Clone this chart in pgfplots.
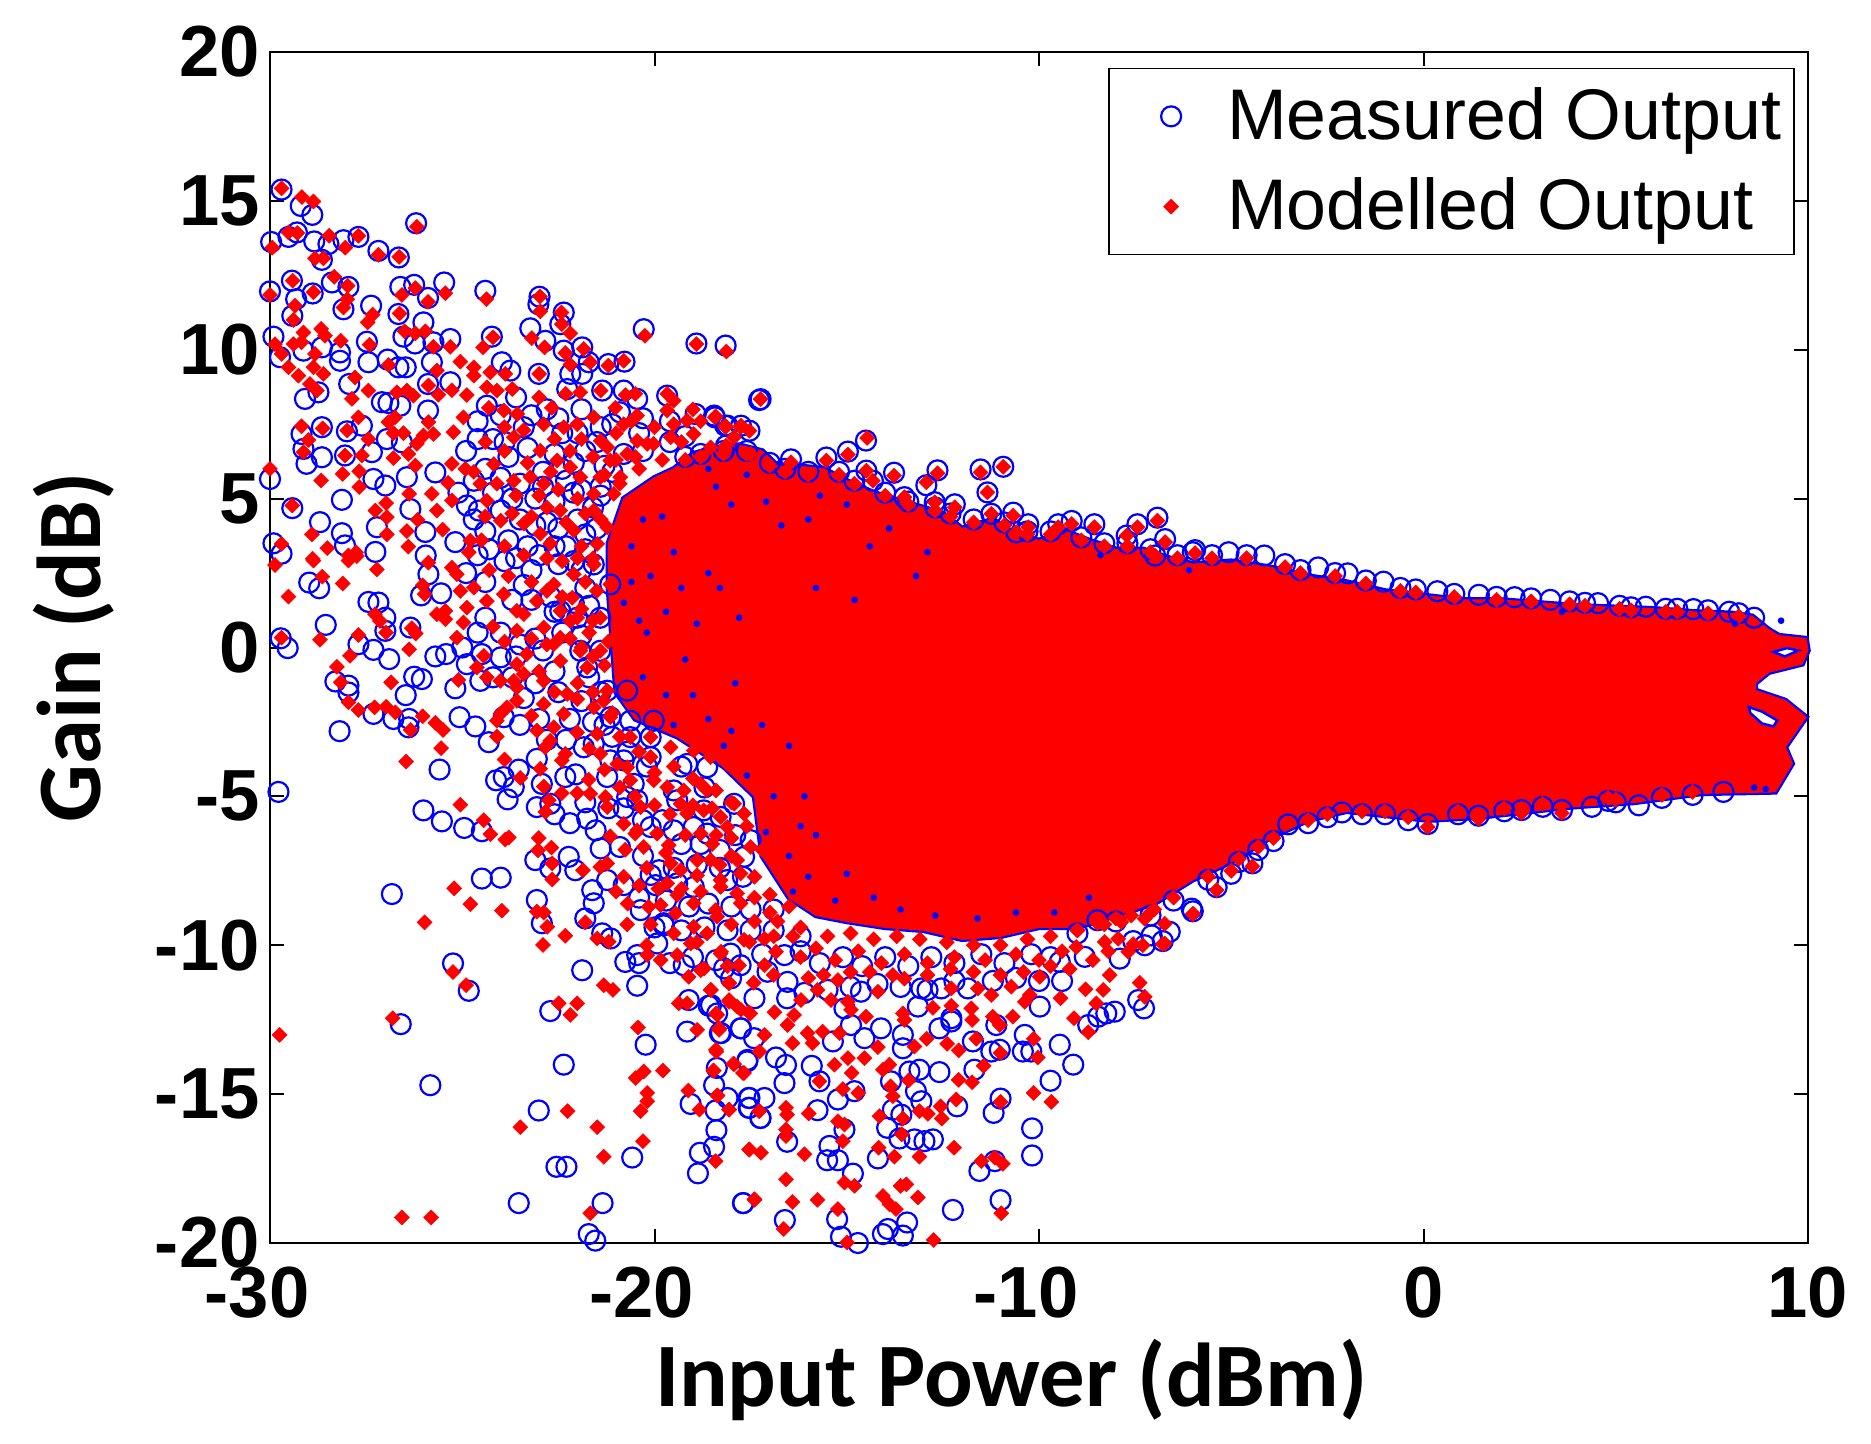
\documentclass[border=0pt]{standalone}
\usepackage{fontspec}
\setmainfont{Liberation Sans}
\newfontfamily\labelfont{Carlito}
\usepackage{pgfplots}
\pgfplotsset{compat=1.18}
\definecolor{mblue}{RGB}{0,0,255}
\definecolor{mred}{RGB}{255,0,0}
\pgfplotsset{
  meas/.style={only marks,mark=o,mark size=1.0mm,mark options={mblue,line width=0.22mm},mblue},
  modl/.style={only marks,mark=square*,mark size=0.53mm,mark options={mred,rotate=45,line width=0.05mm},mred},
}
\begin{document}
\begin{tikzpicture}
\useasboundingbox (-27mm,-20mm) rectangle (160.1mm,124.3mm);
\begin{axis}[
  scale only axis, width=153.8mm, height=119.1mm,
  xmin=-30, xmax=10, ymin=-20, ymax=20,
  xtick={-30,-20,-10,0,10}, ytick={-20,-15,-10,-5,0,5,10,15,20},
  xticklabels={-30\kern2.6mm,-20\kern2.6mm,-10\kern2.6mm,0,10},
  yticklabels={-20,-15,-10,-5,0,5,10,15,20},
  tick align=inside, major tick length=1.4mm,
  axis line style={line width=0.28mm}, tick style={line width=0.2mm,black},
  clip=false,
  tick label style={font=\fontsize{20.6}{22}\selectfont\bfseries},
  xticklabel style={yshift=-1.2mm},
  yticklabel style={xshift=0.2mm},
  xlabel={\labelfont\bfseries\fontsize{25.8}{28}\selectfont Input Power (dBm)},
  ylabel={\labelfont\bfseries\fontsize{25.8}{28}\selectfont Gain (dB)},
  every axis x label/.style={at={(axis description cs:0.482,0)},anchor=center,yshift=-13.7mm},
  every axis y label/.style={at={(axis description cs:0,0.5)},rotate=90,anchor=center,yshift=19.6mm},
  legend style={at={(0.9915,0.9866)},anchor=north east,draw=black,line width=0.15mm,
    font=\fontsize{20.4}{22}\selectfont,row sep=1.9mm,inner xsep=0.6mm,inner ysep=1.2mm},
  legend image code/.code={\draw[#1] plot coordinates {(0mm,0mm)}; \path[draw=none,fill=none] (-5.6mm,0mm) (4.9mm,0mm);},
  legend cell align=left,
]
% blue edge of the dense core
\addplot[forget plot,fill=mblue,draw=mblue,line width=0.55mm] coordinates {
(-21.2,3.5)(-20.8,5.0)(-20,5.7)(-19.5,6.0)(-19,6.5)(-18.5,6.7)(-17.8,6.8)(-17.2,6.6)(-16.8,6.1)(-16.3,6.1)(-15.6,6.0)(-15,5.6)(-14.3,5.2)(-13.8,5.0)(-13,4.7)(-12.5,4.5)(-12,4.0)(-11.2,4.3)(-10.6,3.8)(-10,3.6)(-9.3,3.9)(-8.7,3.6)(-8,3.3)(-7.3,3.3)(-6.6,3.0)(-6,2.8)(-5,2.9)(-4,2.7)(-3,2.4)(-2,2.2)(-1,1.9)(0,1.75)(1,1.6)(2,1.6)(3,1.5)(4,1.4)(5,1.35)(6,1.3)(7,1.2)(8,1.15)(8.55,1.05)(8.98,0.6)(9.24,0.4)(9.95,0.3)(10,-0.1)(9.85,-0.55)(8.98,-0.83)(8.63,-1.2)(8.63,-1.44)(9.41,-1.78)(9.95,-2.34)(9.41,-3.35)(9.59,-3.9)(9.28,-4.57)(9.15,-4.85)(8.37,-4.87)(7.24,-4.9)(5.5,-5.2)(3.77,-5.36)(1.43,-5.7)(0.12,-5.8)(-0.57,-5.7)(-2,-5.5)(-3,-5.8)(-4,-6.4)(-5,-7.2)(-6,-7.8)(-7,-8.6)(-8,-9)(-9,-9.4)(-10,-9.4)(-11,-9.7)(-12,-9.8)(-13,-9.5)(-14,-9.4)(-15,-9.2)(-15.8,-9.0)(-16.5,-8.4)(-17.2,-7.0)(-17.4,-5.0)(-18.2,-4.0)(-19.4,-3.0)(-20.5,-2.4)(-21.0,-1.5)(-21.2,2)
} -- cycle;
\addplot[meas] coordinates {
(-29.70,15.38)(-29.2,14.83)(-28.9,14.53)(-29.97,13.62)(-29.52,13.79)(-29.3,13.94)(-28.85,13.64)(-28.48,13.55)(-28.09,13.68)(-27.7,13.79)(-27.18,13.32)(-26.65,13.1)(-28.65,13.02)(-26.2,14.25)(-29.43,12.32)(-30,11.96)(-28.89,11.89)(-29.32,11.7)(-28.39,12.26)(-27.96,12.11)(-28.09,11.36)(-26.61,12.11)(-26.25,12.18)(-25.47,12.26)(-25.89,11.74)(-24.4,11.98)(-22.99,11.78)(-23.02,11.53)(-22.36,11.25)(-27.37,11.48)(-26.66,11.2)(-26.01,10.92)(-29.42,11.14)(-23.23,10.72)(-22.45,10.86)(-20.28,10.69)(-18.91,10.21)(-18.15,10.14)(-29.91,10.44)(-27.48,10.27)(-26.53,10.44)(-26.23,10.21)(-24.23,10.44)(-25.31,10.36)(-25.75,10.25)(-22.84,10.3)(-22.36,9.97)(-21.88,10.08)(-21.2,9.52)(-20.78,9.6)(-21.71,9.58)(-22.19,9.19)(-21.88,9.19)(-29.74,9.75)(-29.13,9.97)(-28.65,10.08)(-28.18,9.91)(-28.18,9.63)(-27.44,9.58)(-26.94,9.67)(-26.66,9.41)(-26.47,9.41)(-25.79,9.58)(-23.97,9.58)(-23.75,9.3)(-23.01,9.19)(-27.94,8.85)(-29.09,8.35)(-28.74,8.57)(-25.31,8.91)(-25.89,8.85)(-27.09,8.24)(-26.92,8.21)(-26.61,8.12)(-25.89,7.96)(-24.36,8.12)(-21.36,8.63)(-20.8,8.63)(-20.45,8.35)(-19.67,8.46)(-18.93,7.84)(-18.45,7.79)(-17.28,8.31)(-18.1,7.45)(-22.27,8.68)(-29.18,7.17)(-28.65,7.4)(-28,7.26)(-27.61,7.45)(-26.96,7.0)(-26.57,6.89)(-29.13,6.67)(-28.65,6.39)(-28.05,6.45)(-27.35,6.56)(-29.05,6.17)(-30.0,5.66)(-27.31,5.66)(-27.0,5.44)(-26.44,5.72)(-25.7,5.88)(-28.13,4.96)(-29.42,4.68)(-26.35,4.65)(-24.88,4.77)(-24.57,4.6)(-28.7,4.21)(-28.13,3.84)(-27.22,4.04)(-25.96,3.88)(-25.18,3.54)(-29.91,3.5)(-29.7,3.15)(-28.05,3.43)(-27.26,3.21)(-25.95,3.09)
(-24.6,7.6)(-24.2,7.0)(-23.6,8.4)(-23.2,7.8)(-22.8,8.0)(-22.4,7.2)(-21.9,8.0)(-21.4,7.4)(-20.9,7.9)(-20.4,7.2)(-24.9,6.6)(-24.4,6.0)(-23.8,6.4)(-23.3,6.7)(-22.9,5.9)(-22.4,6.0)(-21.8,6.6)(-21.3,6.1)(-20.8,6.5)(-25.1,5.2)(-24.2,5.2)(-23.7,5.0)(-23.1,5.0)(-22.6,4.9)(-22.1,5.2)(-21.6,4.7)(-24.4,3.9)(-23.8,3.6)(-23.3,3.4)(-22.8,4.2)(-22.3,3.4)(-21.8,3.8)(-24.6,3.1)(-23.9,2.9)(-23.2,2.6)(-22.5,2.8)(-21.9,2.6)
(-24.0,7.8)(-23.4,7.4)(-22.5,7.7)(-22.0,7.2)(-21.1,7.5)(-20.3,7.7)(-19.6,7.6)(-19.2,7.1)(-24.6,7.0)(-23.9,6.9)(-22.6,6.5)(-22.1,6.2)(-21.5,6.9)(-24.7,5.6)(-24.0,5.7)(-23.5,5.5)(-22.9,5.4)(-22.3,5.6)(-21.9,5.3)(-21.4,5.4)(-24.7,4.3)(-24.0,4.6)(-23.5,4.3)(-23.1,4.1)(-22.5,4.0)(-22.0,4.3)(-21.8,3.3)(-24.3,3.3)(-23.6,3.0)(-23.0,3.1)(-22.6,3.4)(-22.1,2.9)(-21.8,2.0)(-24.4,2.2)(-23.7,1.6)(-23.2,1.6)(-22.7,1.7)(-22.1,1.5)(-21.7,1.4)(-24.6,.5)(-24.0,.5)(-23.5,.1)(-22.9,-.1)(-22.4,.5)(-21.9,.4)(-24.2,-1.0)(-23.7,-1.0)(-23.1,-1.2)(-22.5,-1.5)(-21.9,-1.8)(-21.4,-1.5)(-23.5,-2.6)(-22.8,-3.1)(-22.3,-3.1)(-21.6,-2.5)(-21.1,-3.0)(-20.7,-3.5)(-20.2,-4.0)(-22.6,-5.6)(-22.2,-5.9)(-21.8,-5.2)(-21.2,-5.4)(-20.8,-5.4)(-20.3,-5.8)(-19.8,-5.8)(-19.3,-6.6)(-18.8,-6.6)(-18.3,-6.8)(-17.9,-6.3)(-20.9,-6.7)(-20.3,-7.0)(-19.5,-7.4)(-18.9,-7.3)(-18.3,-7.4)(-17.7,-7.7)(-20.4,-8.4)(-19.7,-8.5)(-19.1,-8.7)(-18.6,-8.6)(-18.0,-8.7)(-17.5,-8.8)(-16.9,-8.8)(-20.0,-9.4)(-19.3,-9.5)(-18.7,-9.4)(-18.1,-9.5)(-17.5,-9.5)(-16.9,-9.5)(-16.2,-9.7)(-20.4,-10.6)(-19.6,-10.6)(-19,-10.4)(-18.4,-10.5)(-17.2,-10.3)(-16.2,-10.2)(-15.7,-10.6)(-15.1,-10.4)(-14.6,-10.7)(-14,-10.4)(-13.4,-10.7)(-12.8,-10.4)(-12.2,-10.6)(-11.5,-10.3)(-10.9,-10.6)(-10.2,-10.3)(-9.7,-10.4)(-16.1,-11.6)(-15.5,-11.5)(-14.9,-11.4)(-14.2,-11.3)(-13.6,-11.4)(-12.9,-11.5)(-12.2,-11.2)(-11.2,-11.2)(-10.6,-11.1)(-10,-11.2)(-9.4,-11.2)
(-28.98,2.18)(-28.72,1.99)(-27.44,1.53)(-27.18,1.51)(-27.0,1.0)(-28.55,.76)(-29.72,.31)(-29.54,-.02)(-27.7,.11)(-27.31,-.08)(-26.9,-.39)(-27.0,.56)(-26.35,.67)(-26.07,1.75)(-25.55,1.82)(-25.88,2.46)(-25.7,-.3)(-25.42,-.22)(-25.0,0.0)(-24.88,-.56)(-24.49,-.22)(-24.0,-.33)(-28.3,-1.14)(-27.96,-1.28)(-27.96,-1.51)(-26.25,-.98)(-26.05,-1.06)(-26.47,-1.6)(-25.18,-1.37)(-24.53,-1.12)(-27.31,-2.23)(-26.79,-2.4)(-26.38,-2.4)(-26.4,-2.68)(-28.19,-2.81)(-25.07,-2.34)(-24.66,-2.65)(-24.31,-3.18)(-23.92,-2.34)(-25.59,-4.1)(-29.78,-4.85)(-24.12,-4.46)(-23.92,-4.35)(-23.53,-4.1)(-23.66,-4.69)(-23.82,-5.1)(-23.06,-3.74)(-22.93,-4.58)(-22.32,-4.35)(-22.05,-4.26)(-23.06,-5.36)(-22.71,-5.25)(-26.01,-5.47)(-25.53,-5.84)(-24.95,-6.06)(-24.49,-6.17)(-21.75,-5.75)(-21.53,-6.14)(-21.4,-6.75)(-23.1,-7.14)(-22.71,-7.42)(-22.23,-7.03)(-22.06,-7.48)(-24.49,-7.76)(-24,-7.73)(-21.62,-8.15)(-20.8,-7.98)(-21.23,-7.81)(-20.1,-7.64)(-19.97,-7.98)(-19.88,-7.48)(-26.83,-8.28)(-23.06,-8.48)(-22.93,-9.26)(-21.8,-9.1)(-21.58,-8.59)(-20.36,-8.82)(-21.36,-9.6)(-21.14,-9.77)(-19.76,-9.26)(-19.41,-7.92)(-18.98,-8.04)(-18.11,-7.81)(-20.71,-5.02)(-20.45,-5.13)(-19.41,-5.13)(-20.1,-6.03)(-19.5,-6.14)(-18.98,-6.03)(-17.5,-6.47)(-17.67,-7.03)(-18.63,-6.25)(-20.63,-2.46)(-20.02,-2.46)(-20.8,-3.79)(-21.15,-3.79)(-21.58,-3.24)(-21.84,-3.35)(-19.15,-3.91)(-18.63,-4.02)(-21.23,-4.35)(-20.54,-4.58)(-19.5,-4.8)
(-23.6,-0.3)(-23.1,0.3)(-22.6,-0.8)(-22.2,-2.4)(-23.0,-2.4)(-23.4,-1.7)(-21.7,-1.0)(-21.3,-2.6)(-22.6,1.2)(-23.4,2.1)(-24.4,1.0)(-24.9,2.5)
(-25.24,-10.61)(-24.83,-11.53)(-21.88,-10.84)(-20.76,-10.56)(-20.45,-10.33)(-20.45,-11.36)(-22.71,-12.21)(-19.11,-11.84)(-18.59,-12.03)(-18.37,-12.29)(-19.15,-12.9)(-18.3,-12.95)(-20.23,-13.34)(-22.36,-14.01)(-26.6,-12.65)(-25.83,-14.7)(-23.01,-15.55)(-18.45,-14.7)(-18.38,-14.12)(-19.06,-15.33)(-18.41,-15.55)(-18.1,-15.13)(-18.39,-16.21)(-18.45,-16.77)(-18.82,-16.97)(-18.87,-17.66)(-20.58,-17.13)(-22.55,-17.44)(-22.29,-17.44)(-23.53,-18.66)(-21.35,-18.66)(-21.71,-19.7)(-21.54,-19.92)(-17.7,-18.66)(-17.76,-12.79)(-17.41,-13.12)(-17.59,-13.9)(-17.55,-15.13)(-17.55,-15.46)(-17.24,-15.8)(-19.93,-9.94)(-19.76,-9.33)(-19.24,-10.67)(-18.19,-10.78)(-18.02,-10.28)(-17.76,-10.67)
(-17.4,-11.78)(-16.55,-11.78)(-17.75,-12.79)(-18.27,-12.95)(-17.58,-13.85)(-16.84,-13.77)(-16.58,-14.02)(-15.91,-14.05)(-16.62,-14.63)(-15.71,-14.57)(-15.23,-15.18)(-14.8,-14.9)(-17.53,-15.13)(-17.14,-15.13)(-17.53,-15.46)(-17.25,-15.8)(-15.76,-15.54)(-15.06,-16.19)(-16.55,-16.6)(-15.45,-16.74)(-15.51,-17.22)(-15.23,-17.22)(-14.84,-17.67)(-13.95,-16.13)(-14.19,-17.16)(-13.63,-16.49)(-13.24,-16.52)(-12.98,-16.58)(-12.76,-16.52)(-13.54,-13.46)(-13.54,-13.01)(-13.85,-14.57)(-13.37,-14.24)(-13.11,-14.18)(-12.59,-14.26)(-13.2,-14.9)(-13.06,-15.24)(-13.8,-15.52)(-13.58,-15.69)(-12.13,-15.41)(-11.68,-14.18)(-11.72,-13.23)(-11.24,-13.57)(-11.02,-13.51)(-12.59,-12.79)(-12.28,-12.56)(-10.37,-13.01)(-10.42,-13.57)(-10.2,-13.57)(-9.46,-13.34)(-9.11,-14.01)(-9.7,-14.55)(-11.0,-15.15)(-11.18,-15.63)(-10.18,-16.15)(-10.18,-17.06)(-11.55,-17.58)(-11.15,-17.25)(-11.0,-18.56)(-12.24,-18.89)(-13.43,-19.31)(-16.61,-19.23)(-17.69,-18.66)(-15.25,-19.2)(-15.15,-19.79)(-14.71,-20.0)(-14.06,-19.7)(-13.93,-19.53)(-13.54,-19.75)(-9.98,-12.06)(-9.46,-10.56)(-8.81,-10.39)(-7.9,-10.45)(-8.72,-12.68)(-8.46,-12.4)(-8.25,-12.29)(-8.03,-12.23)(-7.42,-11.84)(-7.27,-12.12)(-7.07,-9.67)(-6.6,-9.55)(-7.25,-10.0)(-6.03,-8.77)(-14.63,-11.56)(-15.06,-12.12)(-14.89,-12.68)(-14.11,-12.79)(-14.54,-13.12)(-15.36,-13.23)(-13.06,-11.45)(-12.54,-11.45)(-11.85,-11.45)(-13.15,-12.06)(-12.28,-12.45)(-11.11,-12.68)(-16.62,-10.33)(-16.54,-11.23)(-17.06,-10.89)(-18.01,-11.11)(-18.53,-12.01)
(-17.24,8.34)(-18.43,7.73)(-18.16,7.45)(-17.75,7.45)(-17.53,7.28)(-18.14,6.78)(-16.45,6.32)(-15.53,6.38)(-14.97,6.58)(-14.5,6.95)(-14.49,5.94)(-14.32,5.6)(-13.77,5.87)(-12.93,5.45)(-12.64,5.95)(-11.52,5.98)(-10.93,6.07)(-11.34,5.21)(-13.5,5.05)(-12.71,4.88)(-12.19,4.81)(-11.24,4.49)(-10.67,4.53)(-10.28,4.14)(-10.59,3.87)(-9.5,4.14)(-9.15,4.25)(-8.56,4.14)(-7.72,3.76)(-7.44,4.14)(-6.92,4.36)(-6.72,3.64)(-5.94,3.27)(-6.98,3.09)
(-6.0,3.2)(-5.07,3.2)(-4.14,3.09)(-2.74,2.69)(-1.97,2.49)(-1.04,2.21)(0.36,1.89)(1.44,1.77)(2.37,1.69)(3.3,1.6)(4.54,1.49)(5.78,1.37)(7.02,1.29)(7.95,1.2)
(0.11,-5.93)(1.43,-5.65)(2.55,-5.46)(3.6,-5.46)(4.38,-5.35)(5.6,-5.3)(-2.12,-5.54)(-3.52,-5.94)(-4.45,-7.25)(-5.38,-8.05)(-6,-8.86)(-6.78,-9.86)(-7.55,-9.86)(-8.48,-9.16)
(-21.58,2.79)(-21.15,2.12)(-21.41,1.0)(-21.41,-.11)(-21.75,-.67)(-21.93,-.11)(-22.45,1.23)(-22.01,1.0)(-21.23,-1.45)(-20.71,-1.45)(-21.15,-2.34)(-20.63,-3.01)(-20.1,-3.01)(-20.1,-3.68)(-19.3,-4.0)(-18.7,-4.7)(-17.93,-5.25)(-18.28,-5.69)(-18.72,-5.47)(-21.4,5.1)(-21.5,4.0)(-21.1,5.9)(-20.3,6.6)(-19.6,6.9)
(-5.5,3.1)(-4.6,3.1)(-3.6,2.8)(-3.2,2.6)(-2.3,2.5)(-1.5,2.25)(-.6,2.0)(-.2,1.95)(.8,1.8)(1.9,1.7)(2.8,1.65)(3.8,1.55)(4.2,1.5)(5.1,1.4)(5.4,1.35)(6.3,1.3)(6.6,1.3)(7.4,1.25)(8.2,1.15)(8.6,1.0)
(6.2,-5.05)(7,-4.95)(7.8,-4.85)(5,-5.2)(4.8,-5.15)(3.1,-5.35)(2.1,-5.5)(.9,-5.6)(-.4,-5.8)(-1,-5.6)(-1.6,-5.6)(-2.5,-5.7)(-3,-5.9)(-3.9,-6.5)(-4.8,-7.2)(-5.6,-7.8)(-6.5,-8.5)(-7.1,-9)(-8,-9.2)(-9,-9.6)(-5.0,-7.6)(-4.3,-6.8)
(-19.2,6.4)(-18.8,6.5)(-18.2,6.6)(-17.6,6.6)(-17,6.2)(-16.6,6.0)(-16,5.9)(-15.2,5.9)(-14.8,5.6)(-14,5.2)(-13.4,4.9)(-12.7,4.7)(-12.3,4.5)(-11.7,4.3)(-10.9,4.2)(-10.3,3.9)(-9.7,3.9)(-8.9,3.7)(-8.3,3.5)(-7.7,3.5)(-7.1,3.3)(-6.4,3.1)
};
\addlegendentry{Measured Output}
\addplot[forget plot,fill=mred,draw=mred,line width=0.1mm] coordinates {
(-21.2,3.5)(-20.8,5.0)(-20,5.7)(-19.5,6.0)(-19,6.5)(-18.5,6.7)(-17.8,6.8)(-17.2,6.6)(-16.8,6.1)(-16.3,6.1)(-15.6,6.0)(-15,5.6)(-14.3,5.2)(-13.8,5.0)(-13,4.7)(-12.5,4.5)(-12,4.0)(-11.2,4.3)(-10.6,3.8)(-10,3.6)(-9.3,3.9)(-8.7,3.6)(-8,3.3)(-7.3,3.3)(-6.6,3.0)(-6,2.8)(-5,2.9)(-4,2.7)(-3,2.4)(-2,2.2)(-1,1.9)(0,1.75)(1,1.6)(2,1.6)(3,1.5)(4,1.4)(5,1.35)(6,1.3)(7,1.2)(8,1.15)(8.55,1.05)(8.98,0.6)(9.24,0.4)(9.95,0.3)(10,-0.1)(9.85,-0.55)(8.98,-0.83)(8.63,-1.2)(8.63,-1.44)(9.41,-1.78)(9.95,-2.34)(9.41,-3.35)(9.59,-3.9)(9.28,-4.57)(9.15,-4.85)(8.37,-4.87)(7.24,-4.9)(5.5,-5.2)(3.77,-5.36)(1.43,-5.7)(0.12,-5.8)(-0.57,-5.7)(-2,-5.5)(-3,-5.8)(-4,-6.4)(-5,-7.2)(-6,-7.8)(-7,-8.6)(-8,-9)(-9,-9.4)(-10,-9.4)(-11,-9.7)(-12,-9.8)(-13,-9.5)(-14,-9.4)(-15,-9.2)(-15.8,-9.0)(-16.5,-8.4)(-17.2,-7.0)(-17.4,-5.0)(-18.2,-4.0)(-19.4,-3.0)(-20.5,-2.4)(-21.0,-1.5)(-21.2,2)
} -- cycle;
\addplot[modl] coordinates {
(-29.7,15.42)(-29.17,15.13)(-28.87,14.98)(-29.94,13.43)(-29.52,13.94)(-29.29,13.92)(-28.46,13.83)(-28.04,13.43)(-27.7,13.83)(-27.18,13.19)(-26.64,13.12)(-28.83,13.07)(-28.61,13.07)(-26.18,14.13)(-29.41,12.32)(-28.33,12.45)(-30,11.84)(-28.87,11.93)(-27.98,12.15)(-26.22,12.07)(-26.57,11.84)(-25.44,11.9)(-25.89,11.61)(-24.37,11.7)(-22.98,11.79)(-22.97,11.29)(-27.99,11.7)(-28.09,11.42)(-29.35,11.48)(-29.39,11.0)(-27.33,11.18)(-27.46,10.92)(-26.63,11.22)(-22.42,11.25)(-22.41,10.86)(-22.19,10.55)(-26.5,10.62)(-26.22,10.55)(-25.96,10.62)(-29.13,10.58)(-28.67,10.7)(-28.57,10.47)(-24.2,10.42)(-24.46,10.08)(-23.19,10.39)(-22.86,10.08)(-20.25,10.47)(-18.91,10.19)(-18.13,9.94)(-29.87,10.19)(-29.7,9.86)(-29.52,9.41)(-29.39,10.19)(-29.18,10.25)(-28.16,10.3)(-27.41,10.17)(-25.75,10.1)(-25.31,10.1)(-21.84,10.03)(-22.32,9.89)(-22.19,9.5)(-21.67,9.58)(-21.2,9.47)(-20.8,9.63)(-26.92,9.49)(-25.05,9.6)(-24.7,9.41)(-24.7,9.13)(-25.66,9.3)(-28.83,9.86)(-28.87,9.41)(-28.61,9.19)(-29.26,9.13)(-28.96,8.85)(-28.78,8.63)(-27.79,9.07)(-27.44,8.63)(-27.87,8.35)(-27.7,7.73)(-24.27,9.24)(-23.88,9.19)(-23.7,8.68)(-23.0,9.19)(-25.88,8.8)(-25.27,8.64)(-25.62,8.49)(-26.44,8.63)(-26.7,8.57)(-26.27,8.46)(-24.36,8.74)(-24.1,8.63)(-24.88,8.48)(-23.0,8.4)(-22.31,8.52)(-21.93,8.57)(-21.4,8.63)(-20.75,8.48)(-20.5,8.52)(-19.67,8.52)(-19.5,8.29)(-24.31,8.05)(-23.92,7.96)(-22.67,8.05)(-21.02,8.05)(-20.45,7.79)(-19.67,7.96)(-19.15,7.62)(-18.41,7.76)(-18.15,7.4)(-17.76,7.4)(-26.75,7.73)(-26.92,7.57)(-25.88,7.57)(-29.18,7.43)(-28.63,7.36)(-27.99,7.29)(-24.97,7.73)(-26.79,7.2)(-26.53,7.2)(-26.01,7.12)(-25.75,7.17)(-25.23,7.23)(-27.44,7.0)(-27.61,6.45)(-28.05,6.45)(-29,6.97)(-29.13,6.56)(-26.18,6.84)(-26.4,6.5)(-26.79,6.36)(-26.22,6.11)(-25.27,6.17)(-24.92,6.0)(-30,6.0)(-28.11,5.83)(-27.68,5.92)(-28.67,5.61)(-27.68,5.39)(-25.37,5.53)(-26.38,5.16)(-25.79,5.16)(-26.98,4.85)(-25.27,4.94)(-29.42,4.77)(-27.26,4.6)(-25.66,4.6)(-26.96,4.38)(-26.16,4.29)(-28.91,3.8)(-26.96,3.8)(-26.44,3.91)(-25.51,3.96)(-29.7,3.48)(-28.51,3.34)(-26.4,3.39)(-27.76,3.2)(-27.96,3.09)(-28.89,2.98)(-24.79,3.59)(-24.83,3.2)
(-24.53,5.5)(-24.36,4.93)(-24.0,4.26)(-24.18,6.16)(-23.66,5.6)(-23.23,5.72)(-22.88,5.5)(-22.97,6.61)(-22.53,6.28)(-22.19,6.05)(-22.88,7.5)(-22.36,7.4)(-22.01,7.5)(-23.66,7.06)(-23.57,7.84)(-21.58,7.73)(-21.4,6.94)(-21.23,6.73)(-20.8,7.5)(-20.45,6.94)(-20.02,6.84)(-21.93,5.72)(-21.58,5.16)(-22.45,4.6)(-22.97,3.82)(-22.71,3.49)(-23.4,4.16)(-22.1,3.93)(-21.3,5.8)(-20.9,5.5)(-20.4,6.0)(-19.8,6.3)(-19.3,6.9)
(-21.15,6.28)(-20.71,6.5)(-20.19,6.84)(-19.58,7.06)(-18.98,7.17)(-18.54,6.72)(-17.93,7.06)(-17.5,6.5)(-21.41,5.72)(-21.06,5.16)(-21.58,4.6)(-21.23,4.04)(-21.49,3.48)(-20.71,3.81)(-20.89,5.72)
(-23.9,7.4)(-23.4,7.3)(-22.6,7.0)(-21.9,7.0)(-21.0,7.2)(-20.6,7.6)(-20.0,7.4)(-19.5,7.5)(-19.0,8.0)(-18.8,7.6)(-24.4,6.9)(-23.9,6.6)(-23.3,6.2)(-22.7,5.9)(-22.2,6.6)(-21.6,6.4)(-21.0,6.3)(-20.5,6.4)(-24.7,5.9)(-24.1,5.5)(-23.6,5.1)(-23.0,5.1)(-22.5,5.3)(-22.0,5.0)(-21.8,4.5)(-21.4,4.3)(-24.4,4.4)(-23.7,4.5)(-23.2,4.4)(-22.8,4.7)(-22.3,4.2)(-21.9,3.4)(-21.6,3.0)(-24.5,3.6)(-23.9,3.4)(-23.4,3.1)(-22.8,3.0)(-22.4,2.9)(-22.0,3.0)(-21.8,2.2)(-21.5,1.9)(-24.3,2.6)(-23.8,2.4)(-23.2,2.2)(-22.8,1.9)(-22.4,1.7)(-21.9,1.3)(-21.6,.9)(-24.2,.7)(-23.9,.2)(-23.2,.3)(-22.8,.1)(-22.2,.3)(-21.7,.5)(-21.2,.2)
(-23.0,-.8)(-22.6,-1.5)(-22.0,-1.2)(-21.6,-1.5)(-21.1,-2.2)(-21.7,-3.4)(-20.9,-3.0)(-20.4,-3.5)(-20.0,-4.2)(-19.5,-4.0)(-19.0,-4.4)(-18.4,-4.8)(-18.0,-5.2)(-17.6,-6.0)(-17.2,-6.8)(-21.3,-4.1)(-20.9,-4.7)(-20.5,-5.0)(-20.0,-5.3)(-19.6,-5.6)(-19.0,-5.3)(-18.5,-5.4)(-18.0,-6.4)(-17.5,-6.7)(-18.4,-6.3)(-19.2,-6.3)(-19.7,-6.9)(-20.2,-7.4)(-20.8,-7.7)(-21.0,-8.2)(-20.4,-8.0)(-19.9,-8.1)(-19.3,-8.1)(-18.8,-8.2)(-18.3,-7.3)(-17.4,-8.4)(-17.0,-8.9)(-17.4,-9.2)(-16.9,-9.7)(-18.0,-9.3)(-18.9,-9.9)(-19.5,-9.6)(-20.1,-9.3)(-20.7,-8.6)(-20.2,-10.0)(-18.1,-10.7)(-16.4,-9.7)(-16.2,-10.4)(-15.6,-11.0)(-14.9,-10.9)(-14.4,-10.9)(-13.8,-11.0)(-12.9,-11.0)(-12.3,-10.8)(-11.7,-10.9)(-11,-11)(-10.4,-10.9)(-9.7,-10.7)(-9.2,-10.8)(-8.6,-10.5)(-8.2,-10.2)(-7.3,-10.0)(-16.9,-11.0)(-16.0,-11.1)
(-29.87,2.77)(-28.87,2.92)(-27.96,2.92)(-27.74,3.07)(-27.22,2.62)(-28.64,2.38)(-28.11,2.15)(-29.52,1.71)(-25.88,2.85)(-25.27,2.68)(-25.14,2.46)(-26.03,2.09)(-25.98,1.79)(-27.27,1.12)(-27.14,.89)(-26.98,.5)(-26.31,.65)(-26.21,.47)(-29.7,.33)(-28.7,.26)(-27.7,.42)(-27.92,-.28)(-26.38,-.06)(-25.14,.33)(-28.26,-.65)(-28.16,-1.17)(-26.85,-1.17)(-25.1,-1.09)(-27.96,-1.84)(-27.7,-2.1)(-27.28,-2.01)(-26.98,-1.99)(-26.74,-2.18)(-26.03,-2.31)(-25.7,-2.53)(-25.5,-2.77)(-26.34,-2.77)(-25.55,-3.38)(-24.1,-2.46)(-24.1,-2.99)(-26.46,-3.83)(-23.9,-3.76)(-23.49,-4.38)(-22.97,-4.07)(-23.2,-2.29)(-23.06,-2.79)(-22.84,-3.35)(-22.71,-3.13)(-22.32,-3.57)(-22.41,-3.79)(-21.71,-4.44)(-22.88,-4.67)(-22.41,-4.89)(-22.01,-4.89)(-21.67,-4.91)(-22.75,-5.13)(-22.84,-5.52)(-25.05,-5.28)(-24.44,-5.8)(-24.27,-6.27)(-23.88,-6.45)(-23.79,-6.38)(-23.01,-6.4)(-23.03,-6.81)(-22.68,-6.72)(-22.66,-7.25)(-22.66,-7.79)(-21.86,-7.48)(-21.23,-7.25)(-21.41,-7.37)(-20.76,-6.79)(-19.67,-7.92)(-25.21,-8.09)(-24.79,-8.62)(-23.97,-8.84)(-25.98,-9.23)(-23.06,-8.87)(-22.88,-8.9)(-22.79,-9.38)(-21.8,-9.23)(-20.71,-9.3)(-22.32,-9.68)(-22.9,-9.99)(-21.49,-9.77)(-21.19,-9.88)(-20.15,-8.71)(-19.84,-8.65)(-19.41,-8.31)(-19.45,-8.93)(-21.23,-5.36)(-21.28,-5.02)(-20.36,-5.36)(-20.8,-5.92)(-20.45,-6.14)(-21.15,-6.34)(-20.5,-6.25)(-20.28,-6.7)(-19.63,-6.64)(-19.93,-6.25)(-19.58,-7.25)(-19.32,-7.48)(-18.89,-7.14)(-18.54,-7.14)(-18.89,-7.65)(-18.28,-7.81)(-18.28,-8.04)(-17.85,-7.14)(-17.76,-7.59)(-17.85,-8.26)(-17.76,-8.59)(-18.98,-8.59)(-18.41,-8.82)(-18.98,-9.38)(-18.37,-9.04)(-18.63,-9.6)(-17.67,-9.82)(-20.02,-4.46)(-19.67,-4.69)(-19.24,-4.8)(-19.32,-5.25)(-18.8,-4.58)(-18.63,-4.8)(-19.15,-5.58)(-18.8,-6.25)(-18.11,-6.03)(-17.67,-5.58)(-21.58,-2.01)(-21.32,-1.79)(-22.01,-2.85)(-21.49,-2.9)(-21.41,-3.57)(-20.97,-3.91)(-20.71,-4.02)(-20.63,-4.46)(-22.36,-2.23)(-22.62,-2.68)(-22.88,-1.12)(-22.88,-1.9)(-22.27,-1.56)(-22.01,-1.73)(-23.58,-.56)(-23.32,-.22)(-23.66,-1.12)(-23.4,-.89)(-24.01,-1.12)(-24.36,-1.0)(-24.62,-.67)(-24.44,-.28)(-23.84,-2.01)(-24.01,-2.23)(-23.58,-1.79)(-23.58,-1.34)(-25.44,.95)(-25.66,1.12)(-25.44,1.23)(-24.97,.84)(-24.88,1.34)(-25.05,1.9)(-24.7,2.01)(-24.36,1.56)(-23.92,1.79)(-23.58,1.23)(-23.58,.56)(-23.4,1.12)(-23.06,1.56)(-22.62,2.12)(-22.1,2.46)(-22.14,1.67)(-22.88,.67)(-22.62,.11)(-22.45,.33)(-22.19,.89)(-22.45,-.45)(-21.9,0.0)(-21.6,-.3)(-21.3,-.6)
(-21.58,2.79)(-21.15,2.12)(-20.71,1.56)(-21.41,1.0)(-20.97,.45)(-21.41,-.11)(-20.8,-.67)(-20.19,-.45)(-21.75,-.67)(-21.93,-.11)(-22.45,1.23)(-22.01,1.0)(-21.23,-1.45)(-20.71,-1.45)(-20.19,-1.45)(-19.67,-1.56)(-18.98,-1.67)(-21.15,-2.34)(-20.63,-3.01)(-20.1,-3.01)(-19.58,-3.35)(-20.1,-3.68)(-18.98,-3.46)(-18.54,-3.68)(-18.11,-3.91)(-17.67,-4.35)(-17.93,-5.25)(-18.28,-5.69)(-18.72,-5.47)
(-25.24,-10.9)(-24.9,-11.34)(-21.32,-11.34)(-21.08,-11.5)(-22.49,-11.95)(-22.01,-11.95)(-22.19,-12.34)(-19.37,-11.95)(-19.15,-11.95)(-20.43,-12.76)(-18.89,-12.84)(-18.37,-12.34)(-18.32,-12.79)(-18.39,-13.57)(-18.54,-11.5)(-18.06,-11.28)(-18.06,-11.84)(-17.85,-12.06)(-17.55,-12.25)(-20.49,-14.46)(-20.28,-14.24)(-19.78,-14.21)(-18.47,-14.21)(-17.95,-13.98)(-17.7,-14.29)(-20.19,-14.96)(-20.19,-15.24)(-20.36,-15.57)(-19.12,-14.88)(-18.37,-15.04)(-18.83,-15.52)(-18.06,-15.52)(-22.26,-15.57)(-23.49,-16.11)(-21.49,-16.11)(-20.3,-16.58)(-21.32,-17.1)(-18.41,-17.25)(-17.54,-16.86)(-21.67,-19.0)(-17.4,-18.53)(-17.28,-15.57)(-29.75,-13.01)(-26.81,-12.45)(-26.57,-19.14)(-25.81,-19.14)(-20.19,-10.33)(-19.84,-10.5)(-19.41,-10.33)(-19.06,-9.94)(-18.8,-10.84)(-19.11,-11.06)(-18.28,-10.28)
(-17.4,-18.55)(-16.58,-17.86)(-16.41,-18.62)(-15.76,-18.55)(-15.23,-18.86)(-16.64,-19.53)(-17.53,-16.86)(-17.23,-16.97)(-16.1,-17.02)(-15.06,-17.97)(-14.8,-18.08)(-13.45,-18.03)(-13.6,-18.08)(-13.15,-18.47)(-14.06,-18.42)(-13.89,-18.7)(-13.72,-18.86)(-14.99,-19.98)(-12.74,-19.9)(-10.98,-19.0)(-14.17,-16.8)(-13.76,-17.1)(-13.11,-17.1)(-12.21,-16.8)(-11.5,-17.25)(-11.15,-17.13)(-10.94,-17.34)(-15.1,-16.58)(-15.23,-15.91)(-15.06,-16.02)(-16.58,-15.46)(-16.55,-15.69)(-16.58,-16.19)(-16.58,-16.41)(-15.99,-15.65)(-17.27,-15.57)(-18.06,-15.52)(-18.36,-15.05)(-18.46,-14.21)(-17.93,-13.99)(-17.67,-14.29)(-15.1,-14.83)(-14.7,-14.96)(-15.71,-14.57)(-14.87,-14.29)(-15.32,-14.01)(-14.97,-13.79)(-14.54,-13.79)(-14.19,-13.42)(-14.06,-14.18)(-13.89,-14.01)(-13.39,-14.54)(-13.86,-14.74)(-13.8,-15.07)(-14.15,-15.74)(-13.54,-15.82)(-13.11,-15.57)(-12.89,-15.66)(-12.56,-15.41)(-12.53,-15.82)(-12.15,-15.18)(-11.0,-15.26)(-13.57,-16.35)(-12.09,-14.52)(-11.74,-14.6)(-10.14,-14.96)(-9.68,-15.26)(-11.44,-14.05)(-11.0,-13.62)(-10.03,-13.77)(-13.24,-13.4)(-12.92,-13.14)(-12.39,-13.31)(-12.09,-13.53)(-11.63,-13.14)(-10.14,-13.14)(-8.72,-12.92)(-9.09,-12.45)(-8.51,-11.95)(-8.33,-11.5)(-8.16,-11.0)(-7.38,-11.26)(-7.25,-11.73)(-9.44,-11.78)(-8.79,-11.48)(-10.68,-12.4)(-11.2,-12.4)(-11.02,-12.68)(-11.76,-12.12)(-11.74,-12.51)(-12.76,-12.1)(-12.28,-12.03)(-13.54,-12.29)(-13.5,-12.51)(-14.5,-12.4)(-14.97,-11.9)(-14.89,-12.17)(-15.41,-11.84)(-15.63,-12.9)(-15.19,-12.95)(-16.02,-12.95)(-15.89,-13.29)(-16.54,-12.68)(-16.41,-13.29)(-16.37,-12.34)(-17.14,-13.01)(-17.27,-13.57)(-16.88,-12.25)(-18.06,-11.9)(-17.75,-12.17)(-17.51,-12.29)(-18.4,-12.29)(-18.32,-12.84)(-18.4,-13.51)(-18.53,-11.5)(-18.06,-11.26)(-17.42,-11.26)(-16.19,-11.84)(-15.23,-11.17)(-15.76,-11.5)(-14.19,-11.56)(-13.5,-11.12)(-12.28,-11.45)(-11.59,-11.45)(-11.24,-11.67)(-10.72,-11.39)(-10.24,-11.67)(-10.37,-11.9)(-9.98,-11.06)(-9.03,-10.06)(-8.29,-9.89)(-7.94,-9.78)(-7.68,-10.22)(-6.73,-9.94)(-7.86,-9.22)(-7.25,-9.11)(-6.73,-9.28)(-5.99,-8.94)(-18.27,-10.22)(-17.8,-10.67)(-18.71,-10.78)(-17.53,-9.89)(-17.14,-9.78)(-16.84,-10.22)(-17.14,-10.67)(-15.8,-10.1)(-15.3,-10.5)(-14.7,-10.2)(-14.1,-10.6)(-13.5,-10.3)(-12.9,-10.6)(-12.2,-10.4)(-11.4,-10.5)(-10.6,-10.3)(-10.0,-10.5)(-9.4,-10.2)
(-15.5,-9.7)(-14.9,-9.6)(-14.3,-9.8)(-13.7,-9.7)(-13.1,-9.8)(-12.4,-9.9)(-11.7,-10)(-11.0,-10)(-10.3,-9.8)(-9.7,-9.7)(-9,-9.5)(-8.3,-9.3)(-7.6,-9.0)(-7,-8.8)(-16.8,-9.2)(-16.2,-9.4)(-16.5,-8.7)(-17,-8.3)(-17.4,-7.7)(-18,-7)(-18.5,-6.6)
(-17.24,8.34)(-18.43,7.73)(-18.16,7.45)(-17.75,7.45)(-17.53,7.28)(-18.14,6.78)(-16.45,6.22)(-15.53,6.28)(-14.97,6.48)(-14.47,7.04)(-14.49,5.94)(-14.32,5.6)(-13.77,5.77)(-12.93,5.55)(-12.64,5.85)(-11.52,5.88)(-10.93,6.07)(-11.34,5.21)(-13.5,5.05)(-12.71,4.88)(-12.19,4.71)(-11.24,4.49)(-10.67,4.43)(-10.28,4.04)(-10.59,3.87)(-9.5,4.04)(-9.15,4.15)(-8.56,4.04)(-7.72,3.76)(-7.44,4.04)(-6.92,4.26)(-6.72,3.54)(-5.94,3.17)(-6.98,3.09)
(0.11,-6.03)(1.43,-5.75)(2.55,-5.56)(3.6,-5.56)(-4.45,-7.35)(-5.38,-8.15)(-6,-8.96)(-6.78,-9.96)(-7.55,-9.96)(-8.48,-9.26)
(-5.5,3.0)(-4.6,3.0)(-3.6,2.7)(-3.2,2.5)(-2.3,2.4)(-1.5,2.15)(-.6,1.9)(-.2,1.85)(.8,1.7)(1.9,1.6)(2.8,1.55)(3.8,1.45)(4.2,1.4)(5.1,1.3)(5.4,1.25)(6.3,1.2)(6.6,1.2)(7.4,1.15)(8.2,1.05)
(6.2,-4.95)(7,-4.85)(5,-5.1)(4.8,-5.05)(3.1,-5.25)(2.1,-5.4)(.9,-5.5)(-.4,-5.7)(-1,-5.5)(-1.6,-5.5)(-2.5,-5.6)(-3,-5.8)(-3.9,-6.4)(-4.8,-7.1)(-5.6,-7.7)(-6.5,-8.4)(-7.1,-8.9)(-8,-9.1)(-9,-9.5)(-5.0,-7.5)(-4.3,-6.7)
(-19.2,6.3)(-18.8,6.4)(-18.2,6.5)(-17.6,6.5)(-17,6.1)(-16.6,5.9)(-16,5.8)(-15.2,5.8)(-14.8,5.5)(-14,5.1)(-13.4,4.8)(-12.7,4.6)(-12.3,4.4)(-11.7,4.2)(-10.9,4.1)(-10.3,3.8)(-9.7,3.8)(-8.9,3.6)(-8.3,3.4)(-7.7,3.4)(-7.1,3.2)(-6.4,3.0)
};
\addlegendentry{Modelled Output}
% small openings in the two lobes at the right end
\addplot[forget plot,fill=white,draw=mblue,line width=0.25mm] coordinates {
(8.46,-2.0)(8.8,-2.15)(9.2,-2.45)(9.1,-2.65)(8.8,-2.55)(8.5,-2.2)
} -- cycle;
\addplot[forget plot,fill=white,draw=mblue,line width=0.25mm] coordinates {
(9.1,-0.15)(9.45,-0.02)(9.75,-0.1)(9.4,-0.3)
} -- cycle;
% blue flecks that show through the core
\addplot[forget plot,only marks,mark=*,mark size=0.26mm,mblue] coordinates {
(-18.6,6.0)(-18.4,5.4)(-18.0,4.8)(-17.6,5.8)(-17.1,4.9)(-16.7,4.1)(-16.0,4.3)(-15.7,5.1)(-15.0,4.8)(-14.4,3.4)(-13.9,4.0)(-18.6,2.5)(-18.3,2.0)(-17.8,1.0)(-19.5,3.2)(-20.1,2.4)(-19.7,1.2)(-20.2,0.5)(-19.2,-0.4)(-17.9,-1.2)(-19.0,-1.6)(-17.2,-2.6)(-16.5,-3.3)(-18.0,-2.8)(-16.1,-5.0)(-15.8,-6.3)(-16.2,-6.0)(-15.0,-7.6)(-14.3,-8.4)(-13.6,-8.8)(-12.7,-9.0)(-11.6,-9.1)(-10.6,-8.9)(-9.6,-8.9)(-8.7,-8.4)(-13.2,2.4)(-14.8,1.6)(-15.8,2.0)(-12.9,3.2)
(-20.6,3.4)(-20.3,4.3)(-19.8,4.4)(-20.6,2.2)(-20.8,1.5)(-19.3,2.0)(-18.9,.8)(-20.3,-1.0)(-19.7,-1.6)(-19.5,-2.6)(-18.6,-2.4)(-18.2,-3.3)(-17.6,-4.3)(-16.9,-5.0)(-17.1,-6.2)(-16.5,-7.0)(-16.0,-7.7)(-16.4,-8.2)(-15.3,-8.5)(-20.4,0.9)
(-8.4,3.1)(-6.1,2.6)(3.6,1.2)(8.1,0.8)(9.3,0.9)(8.6,-4.7)(8.9,-4.75)
};
\end{axis}
\end{tikzpicture}
\end{document}
